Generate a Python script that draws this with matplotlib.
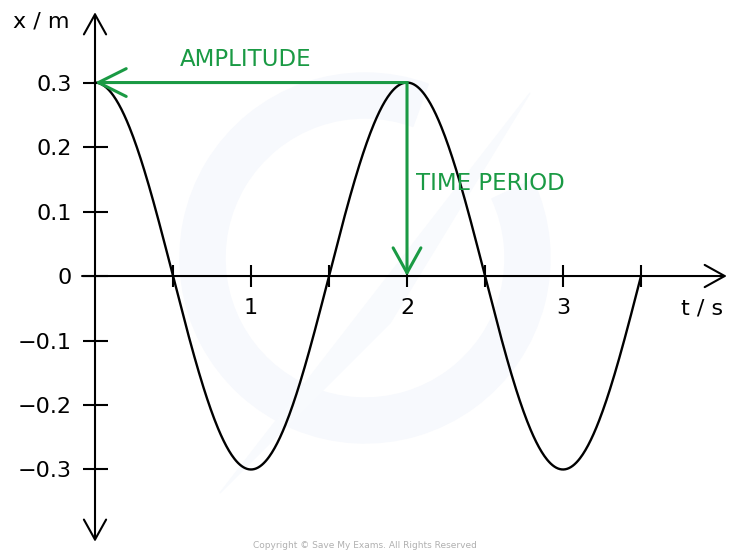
import numpy as np
import matplotlib.pyplot as plt
from matplotlib.patches import Wedge, Polygon

# wave
amplitude = 0.3      # m
period = 2.0         # s
t_end = 3.5          # s
y_ticks = [0.3, 0.2, 0.1, 0, -0.1, -0.2, -0.3]
y_tick_labels = ['0.3', '0.2', '0.1', '0', '\u22120.1', '\u22120.2', '\u22120.3']
x_major = [1, 2, 3]
x_minor = [0.5, 1.5, 2.5, 3.5]

green = '#1a9a44'

fig = plt.figure(figsize=(7.29, 5.53), dpi=100)
ax = fig.add_axes([0, 0, 1, 1])
ax.set_xlim(-0.609, 4.064)
ax.set_ylim(-0.4295, 0.428)
ax.patch.set_alpha(0)

# faint watermark logo
fig.patches.append(Wedge((3.65, 2.95), 1.85, 70, 385, width=0.45,
                         transform=fig.dpi_scale_trans, color='#f7f9fd', zorder=-1))
fig.patches.append(Polygon([(2.2, 0.6), (5.3, 4.6), (3.9, 2.3)], closed=True,
                           transform=fig.dpi_scale_trans, color='#f8fafd', zorder=-1))

# the wave
t = np.linspace(0, t_end, 600)
x = amplitude * np.cos(2 * np.pi * t / period)
ax.plot(t, x, color='black', lw=1.7, zorder=3)

# axes as arrows
for s in ax.spines.values():
    s.set_visible(False)
ax.spines['left'].set_position(('data', 0))
ax.spines['bottom'].set_position(('data', 0))
ax.annotate('', xy=(0, 0.409), xytext=(0, -0.412),
            arrowprops=dict(arrowstyle='<->,head_length=0.72,head_width=0.4',
                            mutation_scale=20, lw=1.5, color='black',
                            shrinkA=0, shrinkB=0))
ax.annotate('', xy=(4.05, 0), xytext=(-0.083, 0),
            arrowprops=dict(arrowstyle='->,head_length=0.72,head_width=0.4',
                            mutation_scale=20, lw=1.5, color='black',
                            shrinkA=0, shrinkB=0))

ax.set_yticks(y_ticks)
ax.set_yticklabels(y_tick_labels)
ax.set_xticks(x_major)
ax.set_xticks(x_minor, minor=True)
ax.tick_params(axis='y', direction='inout', length=18, width=1.5, pad=8,
               labelsize=16)
ax.tick_params(axis='x', which='both', direction='inout', length=16, width=1.5,
               pad=8, labelsize=16)
ax.xaxis.set_ticks_position('bottom')
ax.yaxis.set_ticks_position('left')

# axis titles
ax.text(-0.346, 0.394, 'x / m', fontsize=16, ha='center', va='center')
ax.text(3.89, -0.051, 't / s', fontsize=16, ha='center', va='center')

# amplitude and period arrows
ax.annotate('', xy=(0, amplitude), xytext=(period, amplitude),
            arrowprops=dict(arrowstyle='->,head_length=1.0,head_width=0.5',
                            mutation_scale=20, lw=2.2, color=green,
                            shrinkA=0, shrinkB=0), zorder=4)
ax.annotate('', xy=(period, 0), xytext=(period, amplitude),
            arrowprops=dict(arrowstyle='->,head_length=0.9,head_width=0.5',
                            mutation_scale=20, lw=2.2, color=green,
                            shrinkA=0, shrinkB=0), zorder=4)
ax.text(0.968, 0.335, 'AMPLITUDE', color=green, fontsize=16.5,
        ha='center', va='center')
ax.text(2.058, 0.143, 'TIME PERIOD', color=green, fontsize=16.5,
        ha='left', va='center')

fig.text(365 / 729, 1 - 546 / 553, 'Copyright \u00a9 Save My Exams. All Rights Reserved',
         fontsize=6.5, color='#b0b0b0', ha='center', va='center')

fig.savefig('out.png', dpi=100)
